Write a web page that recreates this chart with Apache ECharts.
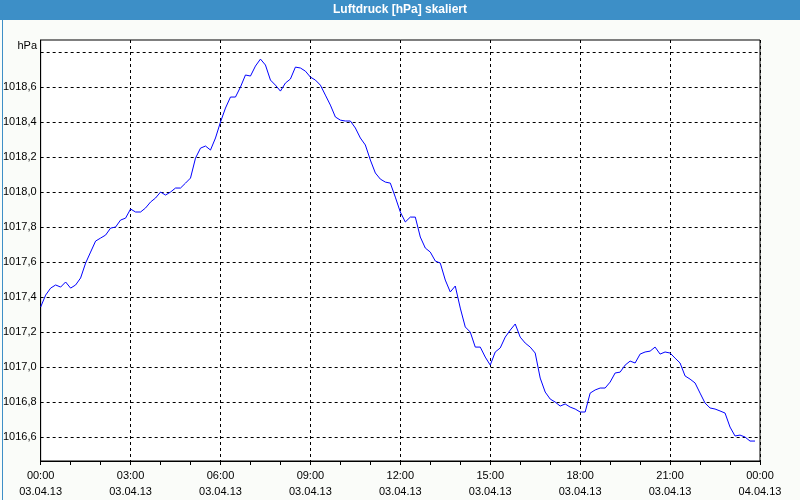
<!DOCTYPE html>
<html><head><meta charset="utf-8">
<script src="https://cdn.jsdelivr.net/npm/echarts@6/dist/echarts.min.js"></script>
<style>html,body{margin:0;padding:0;background:#fafcf9;}#c{width:800px;height:500px;}</style>
</head><body><div id="c"></div>
<script>
const chartTitle = 'Luftdruck [hPa] skaliert';
const unitLabel = 'hPa';
const stepMinutes = 10;
const pressure = [
1017.343,1017.411,1017.451,1017.469,1017.457,1017.486,1017.451,1017.469,1017.509,1017.594,
1017.657,1017.720,1017.737,1017.754,1017.794,1017.800,1017.840,1017.851,1017.903,1017.886,
1017.886,1017.909,1017.943,1017.966,1018.000,1017.983,1018.000,1018.023,1018.023,1018.051,
1018.080,1018.194,1018.251,1018.263,1018.240,1018.309,1018.400,1018.480,1018.543,1018.543,
1018.600,1018.669,1018.663,1018.720,1018.760,1018.726,1018.640,1018.611,1018.577,1018.623,
1018.646,1018.714,1018.709,1018.691,1018.657,1018.640,1018.611,1018.554,1018.497,1018.429,
1018.411,1018.406,1018.406,1018.366,1018.309,1018.269,1018.183,1018.109,1018.074,1018.057,
1018.051,1017.971,1017.886,1017.829,1017.857,1017.857,1017.743,1017.680,1017.657,1017.606,
1017.594,1017.497,1017.429,1017.463,1017.337,1017.229,1017.200,1017.114,1017.114,1017.057,
1017.011,1017.086,1017.109,1017.171,1017.211,1017.246,1017.171,1017.137,1017.114,1017.080,
1016.937,1016.857,1016.817,1016.800,1016.777,1016.789,1016.771,1016.760,1016.743,1016.743,
1016.851,1016.869,1016.880,1016.880,1016.914,1016.966,1016.971,1017.011,1017.034,1017.023,
1017.074,1017.086,1017.091,1017.114,1017.074,1017.086,1017.080,1017.051,1017.023,1016.949,
1016.931,1016.909,1016.851,1016.794,1016.766,1016.760,1016.749,1016.737,1016.657,1016.606,
1016.611,1016.600,1016.577,1016.577
];
const xTickLabels = ['00:00\n03.04.13','03:00\n03.04.13','06:00\n03.04.13','09:00\n03.04.13',
  '12:00\n03.04.13','15:00\n03.04.13','18:00\n03.04.13','21:00\n03.04.13','00:00\n04.04.13'];
const yTickValues = [1016.6,1016.8,1017.0,1017.2,1017.4,1017.6,1017.8,1018.0,1018.2,1018.4,1018.6];
const yGridValues = [1016.6,1016.8,1017.0,1017.2,1017.4,1017.6,1017.8,1018.0,1018.2,1018.4,1018.6,1018.8];
const yMin = 1016.463, yMax = 1018.869;

const seriesData = pressure.map((v, i) => [i * stepMinutes, v]);
const font = 'Liberation Sans, Arial, sans-serif';
const chart = echarts.init(document.getElementById('c'), null, {renderer: 'canvas'});
chart.setOption({
  animation: false,
  backgroundColor: '#fafcf9',
  graphic: [
    {type: 'rect', left: 0, top: 0, shape: {width: 800, height: 20}, style: {fill: '#3d8fc7'}, z: 0},
    {type: 'rect', left: 0, top: 0, shape: {width: 799, height: 499}, style: {fill: 'none', stroke: '#3d8fc7', lineWidth: 1}, z: 0},
    {type: 'text', left: 'center', top: 4, style: {text: chartTitle, fill: '#ffffff', font: 'bold 12px ' + font}, z: 1},
    {type: 'text', right: 763, top: 40, style: {text: unitLabel, fill: '#000', font: '11px ' + font, align: 'right'}, z: 1}
  ],
  grid: {left: 40, right: 40, top: 40, bottom: 39, show: true, borderColor: '#000', borderWidth: 1, backgroundColor: '#ffffff'},
  xAxis: {
    type: 'value', min: 0, max: 1440, interval: 180,
    axisLine: {show: true, lineStyle: {color: '#000'}},
    axisTick: {show: true, length: 4, lineStyle: {color: '#000'}},
    minorTick: {show: true, splitNumber: 3, length: 4, lineStyle: {color: '#000'}},
    axisLabel: {color: '#000', fontFamily: font, fontSize: 11, lineHeight: 16, margin: 7,
      formatter: v => xTickLabels[Math.round(v / 180)]},
    splitLine: {show: true, lineStyle: {color: '#000', type: [3, 3], width: 1}}
  },
  yAxis: {
    type: 'value', min: yMin, max: yMax,
    axisLine: {show: true, lineStyle: {color: '#000'}},
    axisTick: {show: false, customValues: yGridValues},
    axisLabel: {color: '#000', fontFamily: font, fontSize: 11, margin: 4, customValues: yTickValues,
      formatter: v => v.toFixed(1).replace('.', ',')},
    splitLine: {show: true, lineStyle: {color: '#000', type: [3, 3], width: 1}}
  },
  series: [{
    type: 'line', data: seriesData, showSymbol: false, symbol: 'none',
    lineStyle: {color: '#0000ff', width: 1}, clip: true
  }]
});
</script></body></html>
